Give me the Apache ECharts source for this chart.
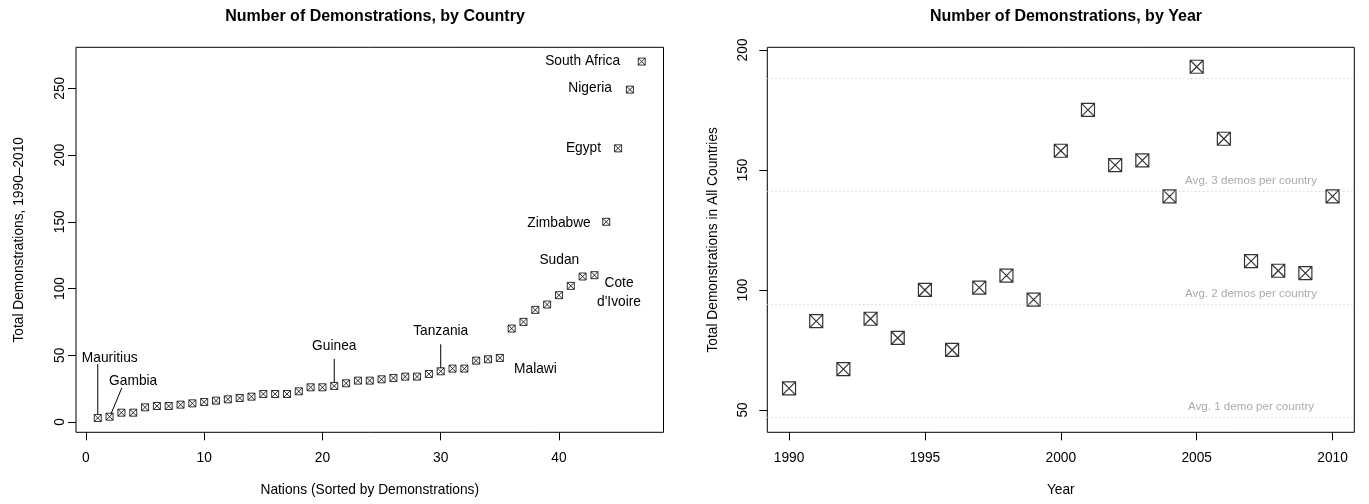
<!DOCTYPE html>
<html>
<head>
<meta charset="utf-8">
<title>Number of Demonstrations</title>
<script src="https://cdn.jsdelivr.net/npm/echarts@6/dist/echarts.min.js"></script>
<style>
  html, body { margin: 0; padding: 0; background: #fff; }
  #chart { width: 1369px; height: 504px; }
</style>
</head>
<body>
<div id="chart"></div>
<script>
// Demonstrations per nation, 1990-2010, sorted ascending (rank 1..47)
const countryDemos = [
  3, 4, 7, 7, 11, 12, 12, 13, 14, 15,
  16, 17, 18, 19, 21, 21, 21, 23, 26, 26,
  27, 29, 31, 31, 32, 33, 34, 34, 36, 38,
  40, 40, 46, 47, 48, 70, 75, 84, 88, 95,
  102, 109, 110, 150, 205, 249, 270
];

// Named nations and their rank in the sorted list
const noteNames = ['Mauritius', 'Gambia', 'Guinea', 'Tanzania', 'Malawi', 'Sudan',
  "Cote\nd'Ivoire", 'Zimbabwe', 'Egypt', 'Nigeria', 'South Africa'];
const noteRanks = [1, 2, 21, 30, 35, 42, 43, 44, 45, 46, 47];

// Demonstrations per year across all countries
const years = [1990, 1991, 1992, 1993, 1994, 1995, 1996, 1997, 1998, 1999,
  2000, 2001, 2002, 2003, 2004, 2005, 2006, 2007, 2008, 2009, 2010];
const yearDemos = [59, 87, 67, 88, 80, 100, 75, 101, 106, 96,
  158, 175, 152, 154, 139, 193, 163, 112, 108, 107, 139];

// Reference levels: average demos per country (47 countries)
const avgLevels = [47, 94, 141, 188];
const avgNotes = ['Avg. 1 demo per country', 'Avg. 2 demos per country', 'Avg. 3 demos per country'];
const avgNoteYear = 2007;

// Tick labels
const rankTicks = [0, 10, 20, 30, 40];
const countryTicks = [0, 50, 100, 150, 200, 250];
const yearTicks = [1990, 1995, 2000, 2005, 2010];
const totalTicks = [50, 100, 150, 200];

// ---- styling / layout ----
const FONT = '"Liberation Sans", Arial, Helvetica, sans-serif';
const FS = 13.75;
const BOX_X = 'path://M0,0L10,0L10,10L0,10Z M0,0L10,10 M10,0L0,10';

// pixel offsets for each nation label relative to its point
const noteLayout = {
  'Mauritius':    { dx: 12,   dy: -60,  align: 'center', line: [0, -54, 0, -4] },
  'Gambia':       { dx: 23.6, dy: -35.4, align: 'center', line: [12.3, -29, 1.3, -2.4] },
  'Guinea':       { dx: 0,    dy: -40,  align: 'center', line: [0, -27, 0, -3] },
  'Tanzania':     { dx: 0,    dy: -40,  align: 'center', line: [0, -27, 0, -3] },
  'Malawi':       { dx: 35.6, dy: 11,   align: 'center' },
  'Sudan':        { dx: -23.3, dy: -16, align: 'center' },
  "Cote\nd'Ivoire": { dx: 24.6, dy: 17.6, align: 'center' },
  'Zimbabwe':     { dx: -15.5, dy: 1,   align: 'right' },
  'Egypt':        { dx: -17,  dy: 0,    align: 'right' },
  'Nigeria':      { dx: -18,  dy: -1,   align: 'right' },
  'South Africa': { dx: -21.7, dy: 0,   align: 'right' }
};

function valueAxis(gridIndex, min, max, ticks, extra) {
  return Object.assign({
    type: 'value',
    gridIndex: gridIndex,
    min: min,
    max: max,
    splitLine: { show: false },
    axisLine: { show: false, onZero: false },
    axisTick: { show: true, length: 8, inside: false, customValues: ticks,
      lineStyle: { color: '#000', width: 1 } },
    axisLabel: { customValues: ticks, color: '#000', fontFamily: FONT, fontSize: FS,
      formatter: v => String(v) },
    nameTextStyle: { color: '#000', fontFamily: FONT, fontSize: FS },
    nameLocation: 'middle'
  }, extra || {});
}

const chart = echarts.init(document.getElementById('chart'), null, { renderer: 'canvas' });

const option = {
  animation: false,
  backgroundColor: '#fff',
  title: [
    { text: 'Number of Demonstrations, by Country', left: 370, top: 4, textAlign: 'center',
      textStyle: { fontFamily: FONT, fontSize: 16, fontWeight: 'bold', color: '#000' } },
    { text: 'Number of Demonstrations, by Year', left: 1061, top: 4, textAlign: 'center',
      textStyle: { fontFamily: FONT, fontSize: 16, fontWeight: 'bold', color: '#000' } }
  ],
  grid: [
    { left: 76, top: 47.3, width: 587.5, height: 385, show: true,
      borderColor: '#000', borderWidth: 1, backgroundColor: 'transparent' },
    { left: 767.3, top: 47.3, width: 587, height: 385, show: true,
      borderColor: '#000', borderWidth: 1, backgroundColor: 'transparent' }
  ],
  xAxis: [
    valueAxis(0, -0.84, 48.84, rankTicks, { name: 'Nations (Sorted by Demonstrations)', nameGap: 51 }),
    valueAxis(1, 1989.2, 2010.8, yearTicks, { name: 'Year', nameGap: 51 })
  ],
  yAxis: [
    valueAxis(0, -7.7, 280.7, countryTicks, { name: 'Total Demonstrations, 1990\u20132010', nameGap: 50 }),
    valueAxis(1, 40.7, 201.1, totalTicks, { name: 'Total Demonstrations in All Countries', nameGap: 47 })
  ],
  series: [
    {
      type: 'scatter',
      xAxisIndex: 0, yAxisIndex: 0,
      symbol: BOX_X,
      symbolSize: 7,
      itemStyle: { color: 'rgba(0,0,0,0)', borderColor: '#000', borderWidth: 1 },
      data: countryDemos.map((v, i) => [i + 1, v]),
      z: 3
    },
    {
      type: 'custom',
      xAxisIndex: 0, yAxisIndex: 0,
      data: noteRanks.map((r, i) => [r, countryDemos[r - 1], i]),
      renderItem: function (params, api) {
        const p = api.coord([api.value(0), api.value(1)]);
        const name = noteNames[api.value(2)];
        const lay = noteLayout[name];
        const children = [{
          type: 'text',
          style: {
            text: name, x: p[0] + lay.dx, y: p[1] + lay.dy,
            align: lay.align, verticalAlign: 'middle',
            fontFamily: FONT, fontSize: FS, lineHeight: 18.4, fill: '#000'
          }
        }];
        if (lay.line) {
          children.push({
            type: 'line',
            shape: { x1: p[0] + lay.line[0], y1: p[1] + lay.line[1],
                     x2: p[0] + lay.line[2], y2: p[1] + lay.line[3] },
            style: { stroke: '#000', lineWidth: 1 }
          });
        }
        return { type: 'group', children: children };
      },
      z: 4
    },
    {
      type: 'scatter',
      xAxisIndex: 1, yAxisIndex: 1,
      symbol: BOX_X,
      symbolSize: 13,
      itemStyle: { color: 'rgba(0,0,0,0)', borderColor: '#000', borderWidth: 1.2 },
      data: years.map((y, i) => [y, yearDemos[i]]),
      markLine: {
        silent: true,
        symbol: 'none',
        label: { show: false },
        lineStyle: { color: '#c8c8c8', width: 1, type: [1, 3] },
        data: avgLevels.map(v => ({ yAxis: v }))
      },
      z: 3
    },
    {
      type: 'custom',
      xAxisIndex: 1, yAxisIndex: 1,
      data: avgNotes.map((t, i) => [avgNoteYear, avgLevels[i], i]),
      renderItem: function (params, api) {
        const p = api.coord([api.value(0), api.value(1)]);
        return {
          type: 'text',
          style: {
            text: avgNotes[api.value(2)], x: p[0], y: p[1] - 10.7,
            align: 'center', verticalAlign: 'middle',
            fontFamily: FONT, fontSize: 11.6, fill: '#ababab'
          }
        };
      },
      z: 2
    }
  ]
};

// y tick labels run parallel to the axis
option.yAxis.forEach(a => { a.axisLabel.rotate = 90; });
option.yAxis[0].axisLabel.margin = 9;
option.yAxis[1].axisLabel.margin = 17;
option.xAxis.forEach(a => { a.axisLabel.margin = 19; });

chart.setOption(option);
</script>
</body>
</html>
